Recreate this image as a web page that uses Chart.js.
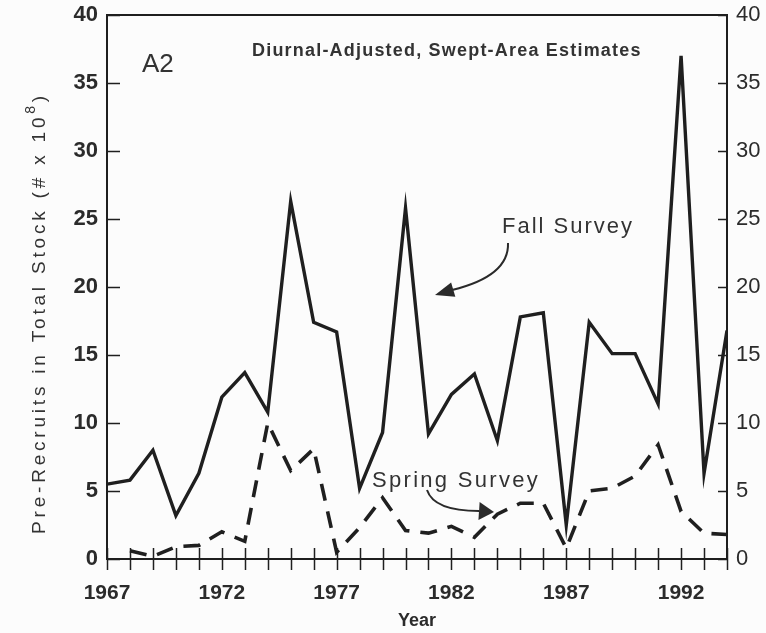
<!DOCTYPE html>
<html><head><meta charset="utf-8">
<script src="https://cdn.jsdelivr.net/npm/chart.js@4.4.1/dist/chart.umd.min.js"></script>
<style>html,body{margin:0;padding:0;background:#fcfcfc;}#wrap{width:766px;height:633px;}</style>
</head><body><div id="wrap"><canvas id="c" width="766" height="633"></canvas></div>
<script>
const years = [1967,1968,1969,1970,1971,1972,1973,1974,1975,1976,1977,1978,1979,1980,1981,1982,1983,1984,1985,1986,1987,1988,1989,1990,1991,1992,1993,1994];
const fallSurvey = [5.5,5.8,8.0,3.2,6.3,11.9,13.7,10.8,26.3,17.4,16.7,5.2,9.3,25.8,9.2,12.1,13.6,8.7,17.8,18.1,2.5,17.4,15.1,15.1,11.4,37.0,6.3,16.8];
const springSurvey = [null,0.6,0.2,0.9,1.0,2.0,1.3,10.0,6.5,8.1,0.5,2.3,4.5,2.1,1.9,2.4,1.6,3.3,4.1,4.1,0.8,5.0,5.2,6.1,8.4,3.5,1.9,1.8];
const yTickValues = [0,5,10,15,20,25,30,35,40];
const xLabelYears = [1967,1972,1977,1982,1987,1992];
const panelLabel = 'A2';
const subtitle = 'Diurnal-Adjusted, Swept-Area Estimates';
const fallLabel = 'Fall Survey';
const springLabel = 'Spring Survey';
const xTitle = 'Year';
const yTitleMain = 'Pre-Recruits in Total Stock (# x 10';
const yTitleSup = '8';
const yTitleEnd = ')';

const INK = '#1f1f1f';
const TXT = '#333333';
const FONT = '"Liberation Sans", Arial, sans-serif';

function arrow(ctx, pts, tip, headLen, headW){
  ctx.beginPath();
  ctx.moveTo(pts[0][0], pts[0][1]);
  ctx.bezierCurveTo(pts[1][0],pts[1][1],pts[2][0],pts[2][1],pts[3][0],pts[3][1]);
  ctx.stroke();
  const dx = tip[0]-pts[3][0], dy = tip[1]-pts[3][1];
  const L = Math.hypot(dx,dy); const ux=dx/L, uy=dy/L;
  const bx = tip[0]-ux*headLen, by = tip[1]-uy*headLen;
  ctx.beginPath();
  ctx.moveTo(tip[0],tip[1]);
  ctx.lineTo(bx - uy*headW/2, by + ux*headW/2);
  ctx.lineTo(bx + uy*headW/2, by - ux*headW/2);
  ctx.closePath();
  ctx.fill();
}

const decor = {
  id:'decor',
  beforeDraw(chart){
    const ctx = chart.ctx;
    ctx.save(); ctx.fillStyle = '#fcfcfc'; ctx.fillRect(0,0,chart.width,chart.height); ctx.restore();
  },
  afterDraw(chart){
    const ctx = chart.ctx, a = chart.chartArea;
    const xs = chart.scales.x, yl = chart.scales.y, yr = chart.scales.y2;
    ctx.save();
    ctx.strokeStyle = INK; ctx.lineWidth = 2;
    ctx.beginPath(); ctx.moveTo(a.left, a.top); ctx.lineTo(a.right, a.top); ctx.stroke();
    ctx.lineWidth = 1.5;
    for (const yr0 of years){
      const px = Math.round(xs.getPixelForValue(yr0))+0.5;
      ctx.beginPath(); ctx.moveTo(px, a.bottom-11); ctx.lineTo(px, a.bottom+11); ctx.stroke();
    }
    for (const v of yTickValues){
      const py = Math.round(yl.getPixelForValue(v))+0.5;
      ctx.beginPath(); ctx.moveTo(a.left, py); ctx.lineTo(a.left+13, py); ctx.stroke();
      const py2 = Math.round(yr.getPixelForValue(v))+0.5;
      ctx.beginPath(); ctx.moveTo(a.right, py2); ctx.lineTo(a.right-9, py2); ctx.stroke();
    }
    ctx.fillStyle = TXT;
    ctx.textBaseline = 'alphabetic';
    ctx.textAlign = 'left';
    ctx.font = '26px ' + FONT;
    ctx.fillText(panelLabel, 142, 72);
    ctx.font = 'bold 18px ' + FONT;
    ctx.letterSpacing = '1.2px';
    ctx.fillText(subtitle, 252, 56);
    ctx.font = '22px ' + FONT;
    ctx.letterSpacing = '2px';
    ctx.fillText(fallLabel, 502, 233);
    ctx.letterSpacing = '2.3px';
    ctx.fillText(springLabel, 372, 487);
    ctx.letterSpacing = '0px';
    ctx.strokeStyle = '#2a2a2a'; ctx.fillStyle = '#2a2a2a'; ctx.lineWidth = 2;
    arrow(ctx, [[508,243],[509,268],[485,282],[452,290]], [435,295], 19, 15);
    arrow(ctx, [[427,490],[432,505],[452,511],[479,511]], [494,512], 15, 18);
    ctx.save();
    ctx.translate(45, 313);
    ctx.rotate(-Math.PI/2);
    ctx.fillStyle = TXT;
    ctx.font = '19px ' + FONT;
    ctx.letterSpacing = '3.8px';
    const w1 = ctx.measureText(yTitleMain).width;
    const w3 = ctx.measureText(yTitleEnd).width;
    ctx.font = '14px ' + FONT;
    const w2 = ctx.measureText(yTitleSup).width;
    const total = w1+w2+w3;
    let x0 = -total/2;
    ctx.font = '19px ' + FONT;
    ctx.fillText(yTitleMain, x0, 0);
    ctx.font = '14px ' + FONT;
    ctx.fillText(yTitleSup, x0+w1, -10);
    ctx.font = '19px ' + FONT;
    ctx.fillText(yTitleEnd, x0+w1+w2, 0);
    ctx.restore();
    ctx.restore();
  }
};

function fixV(width){ return (s)=>{ s.width = width; s.paddingTop = 0; s.paddingBottom = 0; }; }

new Chart(document.getElementById('c'), {
  type:'line',
  data:{
    datasets:[
      { label:fallLabel, data: years.map((y,i)=>({x:y, y:fallSurvey[i]})),
        borderColor:INK, borderWidth:3.4, pointRadius:0, tension:0, fill:false },
      { label:springLabel, data: years.map((y,i)=>({x:y, y:springSurvey[i]})),
        borderColor:INK, borderWidth:3.6, borderDash:[17,11], pointRadius:0, tension:0, fill:false, spanGaps:false }
    ]
  },
  options:{
    responsive:false, animation:false, devicePixelRatio:1,
    layout:{padding:{top:15,left:0,right:0,bottom:0}},
    plugins:{legend:{display:false}, tooltip:{enabled:false}},
    scales:{
      x:{ type:'linear', min:1967, max:1994,
        grid:{display:false, drawTicks:false},
        border:{display:true, color:INK, width:2},
        ticks:{ stepSize:1, autoSkip:false, maxRotation:0, padding:22, color:'#2b2b2b',
          font:{family:FONT, size:21, weight:'bold'},
          callback:(v)=> xLabelYears.includes(v) ? String(v) : '' },
        title:{display:true, text:xTitle, color:'#2b2b2b', font:{family:FONT,size:18,weight:'bold'}, padding:{top:4,bottom:1}},
        afterFit:(s)=>{ s.height = 74; s.paddingLeft = 0; s.paddingRight = 0; }
      },
      y:{ position:'left', min:0, max:40,
        grid:{display:false, drawTicks:false},
        border:{display:true, color:INK, width:2},
        ticks:{ stepSize:5, padding:9, color:'#2b2b2b', font:{family:FONT,size:22,weight:'bold'} },
        afterFit: fixV(107)
      },
      y2:{ position:'right', min:0, max:40,
        grid:{display:false, drawTicks:false},
        border:{display:true, color:INK, width:2},
        ticks:{ stepSize:5, padding:9, color:'#2b2b2b', font:{family:FONT,size:22} },
        afterFit: fixV(39)
      }
    }
  },
  plugins:[decor]
});
</script></body></html>
